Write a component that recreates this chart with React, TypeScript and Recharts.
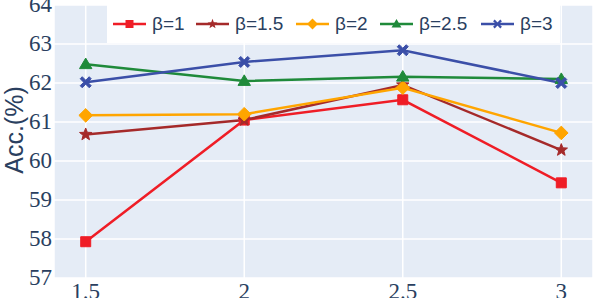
import React from 'react'
import { LineChart, Line, XAxis, YAxis, CartesianGrid } from 'recharts'

// x positions and the series values
const xValues = [1.5, 2, 2.5, 3]
const beta1 = [57.93, 61.05, 61.57, 59.44]
const beta15 = [60.68, 61.05, 61.95, 60.28]
const beta2 = [61.17, 61.2, 61.88, 60.72]
const beta25 = [62.48, 62.05, 62.16, 62.1]
const beta3 = [62.02, 62.54, 62.84, 62.0]
const yTicks = [57, 58, 59, 60, 61, 62, 63, 64]

const data = xValues.map((x, i) => ({
  x,
  b1: beta1[i],
  b15: beta15[i],
  b2: beta2[i],
  b25: beta25[i],
  b3: beta3[i],
}))

const TICK_COLOR = '#2a3f5f'
const SERIF = 'Liberation Serif, DejaVu Serif, serif'
const SANS = 'Liberation Sans, Arial, sans-serif'

type MarkerKind = 'square' | 'star' | 'diamond' | 'triangle' | 'cross'

const series: { key: string; name: string; color: string; marker: MarkerKind; slot: number }[] = [
  { key: 'b1', name: 'β=1', color: '#ef1d26', marker: 'square', slot: 83 },
  { key: 'b15', name: 'β=1.5', color: '#a52a2a', marker: 'star', slot: 100 },
  { key: 'b2', name: 'β=2', color: '#ffa500', marker: 'diamond', slot: 84 },
  { key: 'b25', name: 'β=2.5', color: '#1f8a3a', marker: 'triangle', slot: 101 },
  { key: 'b3', name: 'β=3', color: '#3b4fa8', marker: 'cross', slot: 79 },
]

function markerPath(kind: MarkerKind, cx: number, cy: number, s: number) {
  if (kind === 'square') {
    return `M${cx - s / 2},${cy - s / 2}h${s}v${s}h${-s}Z`
  }
  if (kind === 'diamond') {
    const r = s * 0.68
    return `M${cx},${cy - r}L${cx + r},${cy}L${cx},${cy + r}L${cx - r},${cy}Z`
  }
  if (kind === 'triangle') {
    const r = s * 0.62
    return `M${cx},${cy - r}L${cx + r},${cy + r * 0.7}L${cx - r},${cy + r * 0.7}Z`
  }
  if (kind === 'star') {
    const outer = s * 0.65
    const inner = outer * 0.42
    let d = ''
    for (let i = 0; i < 10; i++) {
      const r = i % 2 === 0 ? outer : inner
      const a = -Math.PI / 2 + (i * Math.PI) / 5
      d += `${i === 0 ? 'M' : 'L'}${cx + r * Math.cos(a)},${cy + r * Math.sin(a)}`
    }
    return d + 'Z'
  }
  // thick x
  const r = s * 0.55
  const w = s * 0.2
  return `M${cx - r},${cy - r + w}L${cx - r + w},${cy - r}L${cx},${cy - w}L${cx + r - w},${cy - r}L${cx + r},${cy - r + w}L${cx + w},${cy}L${cx + r},${cy + r - w}L${cx + r - w},${cy + r}L${cx},${cy + w}L${cx - r + w},${cy + r}L${cx - r},${cy + r - w}L${cx - w},${cy}Z`
}

const makeDot = (kind: MarkerKind, color: string) => (props: any) => {
  const { cx, cy, index } = props
  if (cx == null || cy == null) return <g key={index} />
  return <path key={index} d={markerPath(kind, cx, cy, 10)} fill={color} stroke={color} strokeWidth={1} />
}

const XTick = (props: any) => {
  const { x, y, payload } = props
  return (
    <text x={x} y={y + 19} textAnchor="middle" fill={TICK_COLOR} fontSize={23} style={{ fontFamily: SERIF }}>
      {payload.value}
    </text>
  )
}

const YTick = (props: any) => {
  const { x, y, payload } = props
  return (
    <text x={x} y={y + 7} textAnchor="end" fill={TICK_COLOR} fontSize={23} style={{ fontFamily: SERIF }}>
      {payload.value}
    </text>
  )
}

const LegendBox = () => (
  <div
    style={{
      position: 'absolute',
      top: 5,
      left: 107,
      background: '#ffffff',
      width: 453,
      height: 38,
      display: 'flex',
      alignItems: 'center',
      fontFamily: SANS,
      fontSize: 19,
      color: TICK_COLOR,
      boxSizing: 'border-box',
      paddingLeft: 6,
    }}
  >
    {series.map((s) => (
      <div key={s.key} style={{ display: 'flex', alignItems: 'center', width: s.slot, flex: 'none' }}>
        <svg width={33} height={14} style={{ marginRight: 6, flex: 'none' }}>
          <line x1={0} y1={7} x2={33} y2={7} stroke={s.color} strokeWidth={2.5} />
          <path d={markerPath(s.marker, 16.5, 7, 8)} fill={s.color} />
        </svg>
        <span style={{ whiteSpace: 'nowrap' }}>{s.name}</span>
      </div>
    ))}
  </div>
)

export default function App() {
  return (
    <div style={{ position: 'relative', width: 594, height: 298, background: '#ffffff' }}>
      <style>{`body{margin:0}`}</style>
      <LineChart width={594} height={298} data={data} margin={{ top: 5, right: 1, left: 0, bottom: 0 }}>
        <CartesianGrid fill="#e5ecf6" stroke="#ffffff" strokeWidth={1.5} />
        <XAxis
          dataKey="x"
          type="number"
          domain={[1.4, 3.1]}
          ticks={xValues}
          height={20}
          axisLine={false}
          tickLine={false}
          tickSize={0}
          interval={0}
          tick={<XTick />}
        />
        <YAxis
          type="number"
          domain={[57, 64]}
          ticks={yTicks}
          width={54}
          axisLine={false}
          tickLine={false}
          tickSize={0}
          tickMargin={2}
          interval={0}
          tick={<YTick />}
        />
        {series.map((s) => (
          <Line
            key={s.key}
            dataKey={s.key}
            name={s.name}
            type="linear"
            stroke={s.color}
            strokeWidth={2.5}
            dot={makeDot(s.marker, s.color)}
            activeDot={false}
            isAnimationActive={false}
          />
        ))}
        <text
          x={14}
          y={130}
          transform="rotate(-90 14 130)"
          textAnchor="middle"
          dominantBaseline="central"
          fill={TICK_COLOR}
          fontSize={25}
          style={{ fontFamily: SANS }}
        >
          Acc.(%)
        </text>
      </LineChart>
      <LegendBox />
    </div>
  )
}
